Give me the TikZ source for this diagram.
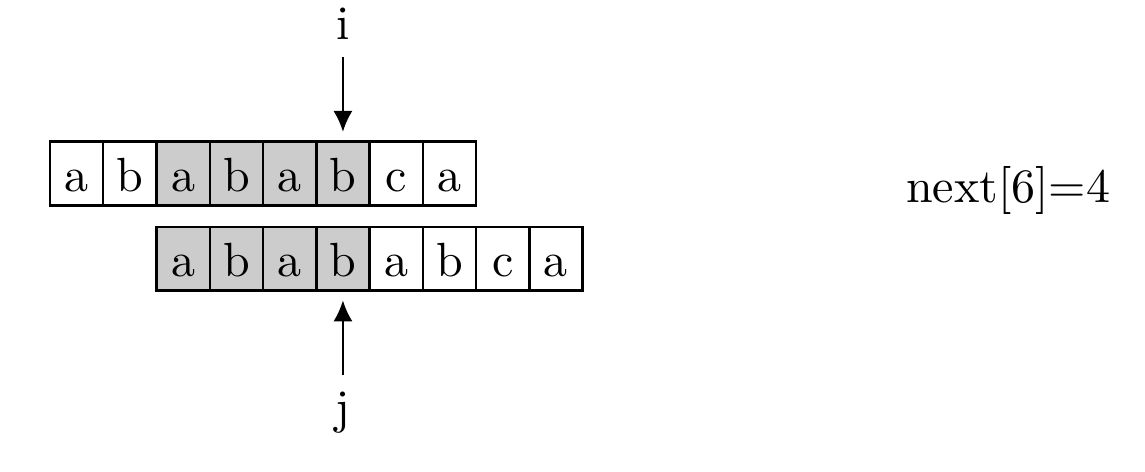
\documentclass[tikz,border=0pt]{standalone}
\usepackage{tikz}
\usetikzlibrary{positioning,arrows.meta}
\definecolor{kmpshade}{HTML}{CCCCCC}

\begin{document}
\begin{tikzpicture}[
    cell/.style={draw, line width=0.5pt, outer sep=0pt, inner sep=0pt,
      minimum width=0.39cm, minimum height=0.467cm,
      text height=7.33pt, text depth=0pt},
    hit/.style={cell, fill=kmpshade},
    ptr/.style={-{Latex[length=4.4pt,width=4pt]}, line width=0.5pt, shorten >=2pt}]
  \useasboundingbox (0,0) rectangle (8.384,3.449);
  % text row
  \foreach \ch/\st [count=\k] in {a/cell, b/cell, a/hit, b/hit, a/hit, b/hit, c/cell, a/cell}
    \node[\st] (t\k) at ({0.3661+(\k-0.5)*0.39},2.179) {\ch};
  % pattern row, shifted by two
  \foreach \ch/\st [count=\k] in {a/hit, b/hit, a/hit, b/hit, a/cell, b/cell, c/cell, a/cell}
    \node[\st] (b\k) at ({0.3661+(\k+1.5)*0.39},1.554) {\ch};
  \node[above=0.62cm of t6] (i) {i};
  \node[below=0.62cm of b4] (j) {j};
  \draw[ptr] (i) -- (t6);
  \draw[ptr] (j) -- (b4);
  \node[anchor=base west, inner sep=0pt] (nxt) at (6.627,1.965) {next[6]=4};
\end{tikzpicture}
\end{document}
